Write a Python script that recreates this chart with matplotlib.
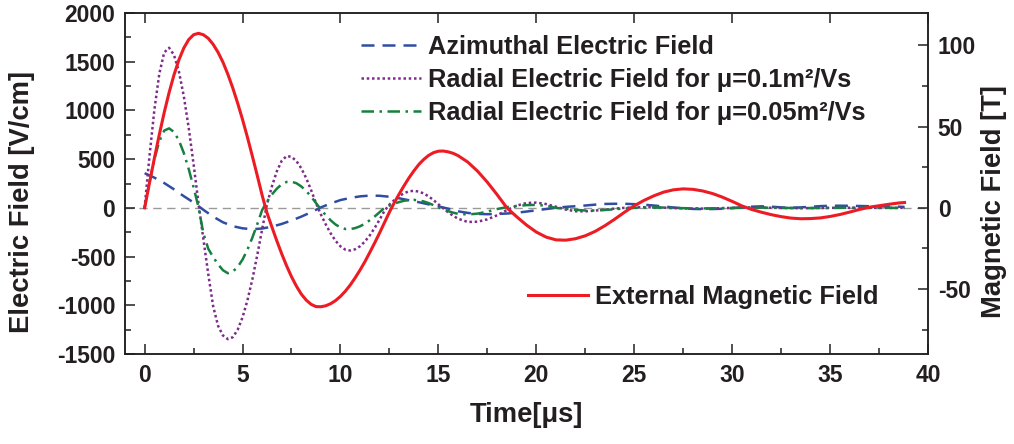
import matplotlib
matplotlib.use("Agg")
import matplotlib.pyplot as plt
from matplotlib.ticker import MultipleLocator

# time grids in microseconds
t_half = [0, 0.5, 1, 1.5, 2, 2.5, 3, 3.5, 4, 4.5, 5, 5.5, 6, 6.5, 7, 7.5, 8, 8.5, 9, 9.5,
          10, 10.5, 11, 11.5, 12, 12.5, 13, 13.5, 14, 14.5, 15, 15.5, 16, 16.5, 17, 17.5,
          18, 18.5, 19, 19.5, 20, 20.5, 21, 21.5, 22, 22.5, 23, 23.5, 24, 24.5, 25, 25.5,
          26, 26.5, 27, 27.5, 28, 28.5, 29, 29.5, 30, 30.5, 31, 31.5, 32, 32.5, 33, 33.5,
          34, 34.5, 35, 35.5, 36, 36.5, 37, 37.5, 38, 38.5, 38.8]
t_quarter = [0, 0.25, 0.5, 0.75, 1, 1.25, 1.5, 1.75, 2, 2.25, 2.5, 2.75, 3, 3.25, 3.5, 3.75,
             4, 4.25, 4.5, 4.75, 5, 5.25, 5.5, 5.75, 6, 6.25, 6.5, 6.75, 7, 7.25, 7.5, 7.75,
             8, 8.25, 8.5, 8.75, 9, 9.25, 9.5, 9.75, 10, 10.25, 10.5, 10.75, 11, 11.25, 11.5,
             11.75, 12, 12.25, 12.5, 12.75, 13, 13.25, 13.5, 13.75, 14, 14.25, 14.5, 14.75,
             15, 15.25, 15.5, 15.75, 16]
t_fine = t_quarter + t_half[33:]

# azimuthal electric field [V/cm] on t_half
e_azimuthal = [356, 310, 255, 190, 120, 55, -20, -90, -148, -188,
               -210, -219, -212, -193, -165, -130, -90, -45, 5, 45,
               80, 102, 118, 126, 124, 114, 98, 78, 58, 36,
               15, -8, -35, -52, -62, -65, -63, -58, -50, -38,
               -25, -12, 0, 10, 17, 24, 33, 40, 42, 42,
               38, 32, 24, 14, 4, -5, -11, -13, -12, -9,
               -3, 5, 12, 16, 12, 5, 2, 5, 11, 18,
               21, 22, 21, 19, 17, 15, 14, 12, 10]

# radial electric field [V/cm], mu = 0.1 m2/Vs, on t_fine
e_radial_01 = [0, 533, 1009, 1376, 1595, 1643, 1569, 1401, 1147, 823, 449, 49,
               -320, -680, -1010, -1210, -1310, -1347, -1328, -1252, -1124, -949, -735, -487, -221,
               38, 220, 375, 483, 532, 524, 481, 406, 305, 183, 49,
               -68, -170, -262, -338, -395, -429, -438, -425, -394, -345, -281, -205, -120, -29,
               33, 80, 120, 151, 170, 175, 167, 148, 118, 80, 37, -5, -46, -81, -111,
               -145, -142, -118, -76, -23, 23, 50, 54, 39, 12,
               -17, -35, -36, -28, -18, -8, 0, 5, 7, 5,
               2, -2, -5, -7, -8, -6, -3, 0, 2, 3,
               3, 1, -1, -2, -3, -2, -1, 0, 1, 1,
               1, 0, 0, 0, 0, 0]

# radial electric field [V/cm], mu = 0.05 m2/Vs, on t_fine
e_radial_005 = [0, 265, 501, 684, 793, 816, 779, 693, 564, 400, 211, 8,
                -260, -420, -505, -580, -640, -671, -655, -607, -531, -429, -306, -169, -23,
                65, 137, 197, 242, 266, 269, 253, 220, 174, 116, 50,
                -17, -75, -128, -171, -201, -217, -218, -208, -189, -162, -127, -88, -44, 0,
                23, 43, 60, 73, 80, 82, 77, 66, 49, 28, 5, -16, -34, -49, -61,
                -68, -59, -39, -12, 8, 20, 28, 31, 22, 0,
                -10, -20, -27, -27, -22, -14, -6, 0, 3, 4,
                3, 0, -3, -5, -6, -5, -3, -1, 1, 2,
                2, 1, 0, -1, -2, -2, -1, 0, 1, 1,
                1, 1, 0, 0, 0, 0]

# external magnetic field [T] on t_fine
b_external = [0, 15.5, 30.6, 45.1, 58.7, 71.0, 81.9, 91.1, 98.4, 103.6, 106.6, 107.5,
              106.6, 104.4, 100.7, 95.8, 89.7, 82.3, 73.9, 64.5, 54.4, 43.5, 31.9, 20.0, 7.8,
              -3.1, -11.8, -20.3, -28.3, -35.7, -42.4, -48.2, -53.1, -56.8, -59.4, -60.8,
              -60.9, -60.3, -59.0, -57.1, -54.5, -51.3, -47.5, -43.1, -38.3, -33.1, -27.4,
              -21.5, -15.4, -9.0,
              -2.6, 3.2, 8.6, 13.7, 18.5, 22.8, 26.7, 29.8, 32.3, 34.0, 34.9, 35.0, 34.5,
              33.6, 32.2,
              28.2, 22.6, 15.8, 8.1, 0, -5.5, -10.6, -14.9, -18.0, -19.7,
              -19.9, -19.0, -17.2, -14.5, -11.0, -7.0, -2.7, 1.3, 4.6, 7.4,
              9.7, 11.1, 11.7, 11.4, 10.4, 8.8, 6.6, 4.0, 1.2, -1.0,
              -2.7, -4.2, -5.4, -6.3, -6.7, -6.6, -6.2, -5.3, -4.1, -2.6,
              -1.0, 0.4, 1.3, 2.2, 3.0, 3.3]

assert len(e_azimuthal) == len(t_half)
assert len(e_radial_01) == len(t_fine) == len(e_radial_005) == len(b_external)

plt.rcParams["font.family"] = ["Liberation Sans", "DejaVu Sans"]
plt.rcParams["font.weight"] = "bold"
plt.rcParams["axes.labelweight"] = "bold"
plt.rcParams["axes.unicode_minus"] = False
ink = "#231f20"

fig = plt.figure(figsize=(10.14, 4.44), dpi=100)
ax = fig.add_axes([0.1233, 0.2027, 0.7919, 0.768])
ax2 = ax.twinx()

ax.axhline(0, color="#9a9a9a", lw=1.0, dashes=(6, 4), zorder=1)
ax.plot(t_half, e_azimuthal, color="#2f4ea3", lw=1.8, dashes=(5.2, 3.2),
        label="Azimuthal Electric Field", zorder=3)
ax.plot(t_fine, e_radial_01, color="#7d2b8b", lw=1.8, dashes=(1, 1.1),
        label="Radial Electric Field for \u03bc=0.1m\u00b2/Vs", zorder=3)
ax.plot(t_fine, e_radial_005, color="#178040", lw=1.8, dashes=(5, 2.2, 1, 2.2),
        label="Radial Electric Field for \u03bc=0.05m\u00b2/Vs", zorder=3)
ax2.plot(t_fine, b_external, color="#ed1c24", lw=2.2,
         label="External Magnetic Field")

ax.set_xlim(-1, 40)
ax.set_ylim(-1500, 2000)
ax2.set_ylim(-90, 120)
ax.xaxis.set_major_locator(MultipleLocator(5))
ax.xaxis.set_minor_locator(MultipleLocator(2.5))
ax.yaxis.set_major_locator(MultipleLocator(500))
ax.yaxis.set_minor_locator(MultipleLocator(250))
ax2.yaxis.set_major_locator(MultipleLocator(50))
ax2.yaxis.set_minor_locator(MultipleLocator(25))

for a in (ax, ax2):
    for s in a.spines.values():
        s.set_linewidth(1.1)
        s.set_color(ink)
    a.tick_params(which="both", direction="in", width=1.1, color=ink,
                  labelsize=16.5, labelcolor=ink, pad=7)
    a.tick_params(which="major", length=7.2)
    a.tick_params(which="minor", length=4.3)
ax.tick_params(axis="x", which="major", top=True)
ax.tick_params(axis="x", which="minor", top=False)
ax.tick_params(axis="y", which="both", right=False)

ax.set_xlabel("Time[\u03bcs]", fontsize=19.7, color=ink)
ax.set_ylabel("Electric Field [V/cm]", fontsize=19.7, color=ink)
ax2.set_ylabel("Magnetic Field [T]", fontsize=19.7, color=ink)
ax.xaxis.set_label_coords(0.5, -0.141)
ax.yaxis.set_label_coords(-0.112, 0.4457)
ax2.yaxis.set_label_coords(1.066, 0.4457)

leg_kw = dict(frameon=False, fontsize=18.3, handlelength=2.35, handletextpad=0.27,
              labelspacing=0.35, borderpad=0, borderaxespad=0)
leg1 = ax.legend(loc="upper left", bbox_to_anchor=(0.294, 0.936), **leg_kw)
ax2.legend(loc="upper left", bbox_to_anchor=(0.502, 0.203), **leg_kw)
for leg in (leg1, ax2.get_legend()):
    for txt in leg.get_texts():
        txt.set_color(ink)

fig.savefig("out.png", dpi=100)
